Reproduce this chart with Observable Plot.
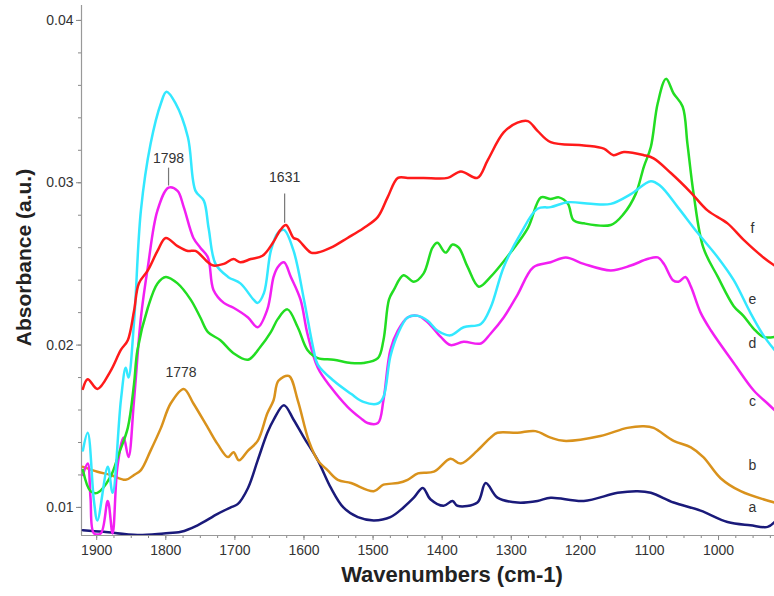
<!DOCTYPE html>
<html>
<head>
<meta charset="utf-8">
<script src="https://cdn.jsdelivr.net/npm/d3@7"></script>
<script src="https://cdn.jsdelivr.net/npm/@observablehq/plot@0.6"></script>
<style>
  html, body { margin: 0; padding: 0; background: #fff; }
  #chart svg { font-family: "Liberation Sans", Arial, sans-serif; }
</style>
</head>
<body>
<div id="chart"></div>
<script>
// ---- data ----
const seriesKeys = ["a", "b", "c", "d", "e", "f"];

const wnF  = [1920,1913,1899,1880,1865,1855,1846,1839,1826,1812,1800,1783,1768,1757,1739,1731,1716,1702,1692,1677,1660,1645,1634,1626,1615,1609,1590,1580,1561,1537,1514,1493,1479,1464,1450,1427,1392,1373,1349,1334,1311,1291,1276,1262,1243,1195,1166,1152,1137,1108,1094,1069,1040,1016,987,964,935,919];
const absF = [0.0173,0.0179,0.0173,0.0184,0.0197,0.0203,0.0221,0.0238,0.0246,0.0258,0.0266,0.0261,0.0258,0.0258,0.0251,0.0249,0.0250,0.0253,0.0251,0.0253,0.0255,0.0263,0.0271,0.0274,0.0266,0.0265,0.0257,0.0257,0.0260,0.0266,0.0272,0.0279,0.0291,0.0303,0.0303,0.0303,0.0303,0.0307,0.0303,0.0314,0.0331,0.0337,0.0338,0.0332,0.0325,0.0323,0.0321,0.0317,0.0319,0.0317,0.0315,0.0306,0.0294,0.0283,0.0275,0.0265,0.0254,0.0249];

const wnE  = [1920,1913,1904,1899,1884,1877,1865,1858,1854,1846,1836,1822,1807,1799,1786,1768,1757,1745,1738,1728,1710,1692,1673,1667,1658,1648,1638,1629,1615,1600,1586,1580,1557,1532,1514,1493,1485,1475,1464,1450,1435,1421,1407,1388,1369,1344,1330,1311,1286,1262,1243,1218,1185,1156,1127,1098,1084,1059,1030,1001,978,954,935,919];
const absE = [0.0135,0.0146,0.0104,0.0092,0.0125,0.0109,0.0166,0.0186,0.0180,0.0214,0.0283,0.0324,0.0349,0.0356,0.0349,0.0328,0.0295,0.0289,0.0272,0.0250,0.0242,0.0238,0.0228,0.0226,0.0232,0.0258,0.0269,0.0271,0.0258,0.0228,0.0197,0.0188,0.0178,0.0170,0.0165,0.0164,0.0168,0.0193,0.0207,0.0217,0.0218,0.0215,0.0209,0.0206,0.0211,0.0213,0.0223,0.0248,0.0269,0.0284,0.0285,0.0288,0.0287,0.0287,0.0293,0.0301,0.0298,0.0285,0.0269,0.0254,0.0240,0.0220,0.0206,0.0197];

const wnD  = [1920,1909,1899,1880,1868,1855,1846,1841,1826,1812,1800,1783,1764,1750,1739,1721,1702,1681,1663,1648,1638,1624,1609,1595,1580,1557,1532,1514,1493,1485,1477,1470,1456,1441,1427,1414,1407,1395,1385,1376,1363,1347,1330,1301,1276,1257,1243,1231,1218,1210,1195,1156,1137,1120,1108,1098,1088,1076,1065,1052,1045,1036,1022,1001,978,964,949,935,919];
const absD = [0.0123,0.0110,0.0109,0.0119,0.0133,0.0149,0.0176,0.0197,0.0223,0.0238,0.0242,0.0238,0.0228,0.0217,0.0208,0.0203,0.0195,0.0191,0.0199,0.0208,0.0216,0.0222,0.0211,0.0197,0.0192,0.0191,0.0189,0.0189,0.0192,0.0203,0.0228,0.0234,0.0243,0.0239,0.0244,0.0260,0.0263,0.0257,0.0262,0.0260,0.0248,0.0236,0.0242,0.0257,0.0272,0.0291,0.0290,0.0291,0.0287,0.0277,0.0275,0.0274,0.0281,0.0293,0.0310,0.0322,0.0349,0.0364,0.0355,0.0347,0.0324,0.0293,0.0260,0.0242,0.0224,0.0218,0.0210,0.0205,0.0205];

const wnC  = [1920,1913,1909,1904,1894,1884,1877,1870,1861,1854,1846,1836,1826,1812,1796,1783,1774,1760,1750,1739,1731,1716,1702,1681,1667,1653,1644,1638,1629,1619,1605,1595,1580,1561,1537,1518,1508,1493,1485,1475,1464,1450,1435,1421,1402,1388,1369,1344,1330,1311,1291,1268,1243,1221,1195,1156,1127,1103,1088,1079,1066,1058,1048,1040,1026,1011,978,949,929,919];
const absC = [0.0120,0.0127,0.0106,0.0084,0.0084,0.0104,0.0084,0.0125,0.0143,0.0131,0.0166,0.0217,0.0248,0.0283,0.0297,0.0295,0.0285,0.0266,0.0260,0.0254,0.0234,0.0226,0.0223,0.0217,0.0211,0.0222,0.0242,0.0248,0.0251,0.0242,0.0228,0.0207,0.0186,0.0174,0.0162,0.0155,0.0152,0.0152,0.0166,0.0197,0.0209,0.0217,0.0218,0.0214,0.0205,0.0200,0.0202,0.0201,0.0207,0.0217,0.0231,0.0248,0.0251,0.0254,0.0250,0.0246,0.0249,0.0253,0.0254,0.0250,0.0240,0.0239,0.0242,0.0236,0.0220,0.0209,0.0189,0.0172,0.0164,0.0160];

const wnB  = [1920,1899,1880,1858,1846,1836,1822,1807,1793,1774,1760,1739,1725,1710,1702,1694,1681,1667,1653,1644,1637,1622,1609,1593,1580,1566,1551,1532,1499,1485,1464,1450,1435,1412,1388,1373,1349,1330,1320,1291,1265,1243,1224,1171,1132,1108,1094,1065,1040,1022,997,968,919];
const absB = [0.0125,0.0122,0.0120,0.0117,0.0120,0.0123,0.0135,0.0149,0.0164,0.0173,0.0164,0.0149,0.0139,0.0131,0.0134,0.0129,0.0135,0.0141,0.0158,0.0166,0.0178,0.0181,0.0166,0.0141,0.0129,0.0123,0.0117,0.0115,0.0110,0.0114,0.0115,0.0117,0.0121,0.0122,0.0130,0.0127,0.0135,0.0143,0.0146,0.0146,0.0147,0.0143,0.0141,0.0144,0.0149,0.0150,0.0149,0.0141,0.0137,0.0131,0.0118,0.0110,0.0103];

const wnA  = [1920,1890,1841,1803,1778,1754,1725,1706,1696,1681,1667,1653,1644,1629,1615,1600,1580,1561,1543,1522,1499,1475,1456,1441,1428,1417,1398,1385,1378,1349,1337,1320,1291,1262,1243,1195,1146,1117,1098,1065,1026,987,954,929,919];
const absA = [0.0086,0.0085,0.0083,0.0084,0.0085,0.0089,0.0096,0.0100,0.0102,0.0112,0.0129,0.0146,0.0154,0.0163,0.0154,0.0143,0.0129,0.0112,0.0100,0.0094,0.0092,0.0094,0.0100,0.0106,0.0112,0.0105,0.0101,0.0104,0.0101,0.0103,0.0115,0.0106,0.0103,0.0104,0.0106,0.0104,0.0109,0.0110,0.0109,0.0103,0.0098,0.0091,0.0089,0.0088,0.0091];

// series end labels
const labelNames = ["f", "e", "d", "c", "b", "a"];
const labelWn    = [951, 951, 951, 951, 951, 951];
const labelAbs   = [0.0272, 0.0228, 0.0201, 0.0165, 0.0126, 0.0100];

// peak annotations
const annText    = ["1798", "1631", "1778"];
const annWn      = [1796, 1628, 1778];
const annTop     = [0.0309, 0.0293, null];
const annPeak    = [0.0298, 0.0275, null];
const annTextAbs = [0.0315, 0.0303, 0.0183];

// axes
const xDomain = [1922, 919];
const yDomain = [0.00827, 0.04092];
const xTicks = [1900, 1800, 1700, 1600, 1500, 1400, 1300, 1200, 1100, 1000];
const yTicks = [0.01, 0.02, 0.03, 0.04];

// ---- styles ----
const colors = ["#1a1a7a", "#d9921c", "#f21ff2", "#22dd22", "#33e8ff", "#ff1a1a"];

// ---- build table ----
const seriesWn  = [wnA, wnB, wnC, wnD, wnE, wnF];
const seriesAbs = [absA, absB, absC, absD, absE, absF];
const rows = seriesKeys.flatMap((k, i) => seriesWn[i].map((w, j) => ({key: k, wn: w, abs: seriesAbs[i][j]})));
const labels = labelNames.map((n, i) => ({name: n, wn: labelWn[i], abs: labelAbs[i]}));
const anns = annText.map((t, i) => ({text: t, wn: annWn[i], top: annTop[i], peak: annPeak[i], tabs: annTextAbs[i]}));

const minorY = d3.range(0.010, 0.0411, 0.002);
const minorX = d3.range(1900, 919, -25);

const chart = Plot.plot({
  width: 774,
  height: 596,
  marginLeft: 81,
  marginRight: 0,
  marginTop: 5,
  marginBottom: 61,
  style: {fontFamily: "'Liberation Sans', Arial, sans-serif", background: "#fff"},
  x: {domain: xDomain},
  y: {domain: yDomain},
  color: {domain: seriesKeys, range: colors},
  marks: [
    Plot.axisY({ticks: minorY, tickSize: 3, tickFormat: () => "", stroke: "#888", label: null}),
    Plot.axisY({ticks: yTicks, tickSize: 5, tickFormat: d3.format(".2f"), fontSize: 14, fill: "#333", stroke: "#888", label: null, tickPadding: 3}),
    Plot.axisX({ticks: minorX, tickSize: 3, tickFormat: () => "", stroke: "#888", label: null}),
    Plot.axisX({ticks: xTicks, tickSize: 5, tickFormat: d => String(d), fontSize: 14, fill: "#333", stroke: "#888", label: null, tickPadding: 5}),
    Plot.ruleX([xDomain[0]], {stroke: "#999", strokeWidth: 1.2}),
    Plot.ruleY([yDomain[0]], {stroke: "#999", strokeWidth: 1.2}),
    Plot.line(rows, {x: "wn", y: "abs", z: "key", stroke: "key", strokeWidth: 2.5, curve: "catmull-rom", clip: true}),
    Plot.ruleX(anns.filter(d => d.top != null), {x: "wn", y1: "peak", y2: "top", stroke: "#777", strokeWidth: 1.2}),
    Plot.text(anns, {x: "wn", y: "tabs", text: "text", fontSize: 14, fill: "#333"}),
    Plot.text(labels, {x: "wn", y: "abs", text: "name", fontSize: 14, fill: "#333"}),
    Plot.text(["Wavenumbers (cm-1)"], {frameAnchor: "bottom", textAnchor: "middle", dx: 24, dy: 46, fontSize: 22, fontWeight: "bold", fill: "#222"}),
    Plot.text(["Absorbance (a.u.)"], {frameAnchor: "left", textAnchor: "middle", dx: -57, dy: -13, rotate: -90, fontSize: 21, fontWeight: "bold", fill: "#222"})
  ]
});
document.getElementById("chart").appendChild(chart);
</script>
</body>
</html>
